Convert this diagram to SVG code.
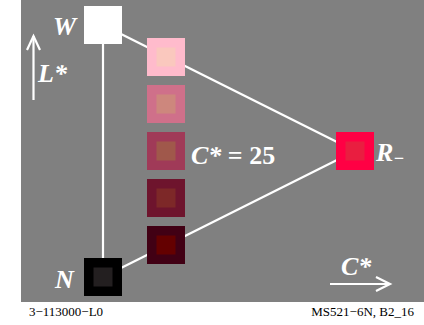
<svg xmlns="http://www.w3.org/2000/svg" width="424" height="325" viewBox="0 0 424 325">
<style>
.lbl{font-family:"Liberation Serif","Times New Roman",serif;fill:#fff;font-weight:bold;font-style:italic;font-size:26px}
.foot{font-family:"Liberation Serif","Times New Roman",serif;fill:#000;font-size:13px}
.ln{stroke:#fff;fill:none;stroke-width:2.2}
</style>
<rect x="0" y="0" width="424" height="325" fill="#fff"/>
<rect x="21" y="0" width="403" height="302" fill="#808080"/>
<g id="connectors">
<line class="ln" x1="103" y1="25" x2="103" y2="277" stroke-width="1.6"/>
<line class="ln" x1="103" y1="25" x2="355" y2="151"/>
<line class="ln" x1="103" y1="277" x2="355" y2="151"/>
</g>
<g id="axisL">
<line class="ln" x1="33.5" y1="36" x2="33.5" y2="100"/>
<polyline class="ln" points="27,50 33.5,36 40,50"/>
<text class="lbl" x="38" y="82">L*</text>
</g>
<g id="axisC">
<line class="ln" x1="330" y1="284" x2="389" y2="284"/>
<polyline class="ln" points="376,277 390,284 376,291"/>
<text class="lbl" x="341" y="275">C*</text>
</g>
<g id="W">
<rect x="84" y="6" width="38" height="38" fill="#fff"/>
<text class="lbl" x="53" y="35">W</text>
</g>
<g id="N">
<rect x="84" y="258" width="38" height="38" fill="#000"/>
<rect x="93.5" y="267.5" width="19" height="19" fill="#231f20"/>
<text class="lbl" x="55" y="288">N</text>
</g>
<g id="R">
<rect x="336" y="132" width="38" height="38" fill="#ff0044"/>
<rect x="345.5" y="141.5" width="19" height="19" fill="#e91e40"/>
<text class="lbl" x="376" y="161">R<tspan font-size="18" dy="3">−</tspan></text>
</g>
<g id="c1">
<rect x="147" y="38" width="38" height="38" fill="#ffbbcc"/>
<rect x="156.5" y="47.5" width="19" height="19" fill="#fac8be"/>
</g>
<g id="c2">
<rect x="147" y="85" width="38" height="38" fill="#cf708a"/>
<rect x="156.5" y="94.5" width="19" height="19" fill="#cd877d"/>
</g>
<g id="c3">
<rect x="147" y="132" width="38" height="38" fill="#a03a58"/>
<rect x="156.5" y="141.5" width="19" height="19" fill="#a0584b"/>
</g>
<g id="c4">
<rect x="147" y="179" width="38" height="38" fill="#6e142d"/>
<rect x="156.5" y="188.5" width="19" height="19" fill="#7d2828"/>
</g>
<g id="c5">
<rect x="147" y="226" width="38" height="38" fill="#410014"/>
<rect x="156.5" y="235.5" width="19" height="19" fill="#640000"/>
</g>
<text class="lbl" x="191" y="164">C*<tspan font-style="normal"> = 25</tspan></text>
<text class="foot" x="29" y="316">3−113000−L0</text>
<text class="foot" x="414" y="316" text-anchor="end">MS521−6N, B2_16</text>
</svg>
